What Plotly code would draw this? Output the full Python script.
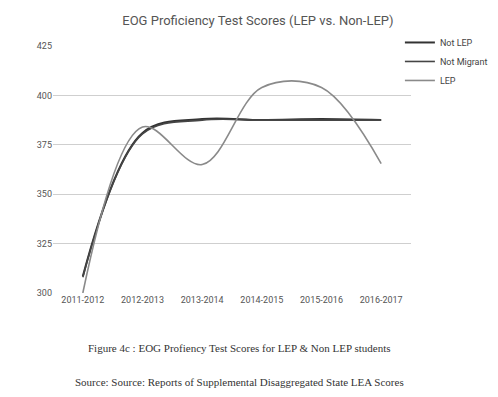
import plotly.graph_objects as go

years = ["2011-2012", "2012-2013", "2013-2014", "2014-2015", "2015-2016", "2016-2017"]
not_lep = [308.5, 381, 388, 387.5, 388, 387.5]
not_migrant = [308, 380.5, 387.5, 387.5, 387.5, 387.5]
lep = [300, 384, 365, 404, 404, 365.5]
y_ticks = [300, 325, 350, 375, 400, 425]

fig = go.Figure()
fig.add_trace(go.Scatter(x=years, y=not_lep, name="Not LEP", mode="lines",
                         line=dict(color="#333333", width=2, shape="spline")))
fig.add_trace(go.Scatter(x=years, y=not_migrant, name="Not Migrant", mode="lines",
                         line=dict(color="#454545", width=1.6, shape="spline")))
fig.add_trace(go.Scatter(x=years, y=lep, name="LEP", mode="lines",
                         line=dict(color="#8a8a8a", width=1.6, shape="spline")))

fig.update_layout(
    width=490, height=389,
    margin=dict(l=45, r=87, t=38, b=104, autoexpand=False),
    paper_bgcolor="white", plot_bgcolor="white",
    title=dict(text="EOG Proficiency Test Scores (LEP vs. Non-LEP)", x=0.51, xanchor="center",
               y=0.967, yanchor="middle",
               font=dict(family="Roboto, Arial, sans-serif", size=13, color="#555555")),
    font=dict(family="Roboto, Arial, sans-serif", size=9, color="#555555"),
    showlegend=True,
    legend=dict(x=0.969, y=1.073, xanchor="left", yanchor="top", bgcolor="rgba(0,0,0,0)",
                font=dict(size=9, color="#444444"), tracegroupgap=0),
    xaxis=dict(type="category", range=[-0.5, 5.5], showgrid=False, showline=False, zeroline=False, ticks="",
               tickfont=dict(size=9, color="#555555")),
    yaxis=dict(range=[300, 425], tickvals=y_ticks, showgrid=True, gridcolor="#cfcfcf",
               gridwidth=1, zeroline=False, showline=False, ticks="",
               tickfont=dict(size=9, color="#555555")),
    annotations=[
        dict(text="Figure 4c : EOG Profiency Test Scores for LEP &amp; Non LEP students",
             xref="paper", yref="paper", x=0.52, y=-0.224, xanchor="center", yanchor="middle",
             showarrow=False, font=dict(family="Liberation Serif, Times New Roman, serif", size=11, color="#333333")),
        dict(text="Source: Source: Reports of Supplemental Disaggregated State LEA Scores",
             xref="paper", yref="paper", x=0.52, y=-0.36, xanchor="center", yanchor="middle",
             showarrow=False, font=dict(family="Liberation Serif, Times New Roman, serif", size=11, color="#333333")),
    ],
)

fig.write_html("out.html")
